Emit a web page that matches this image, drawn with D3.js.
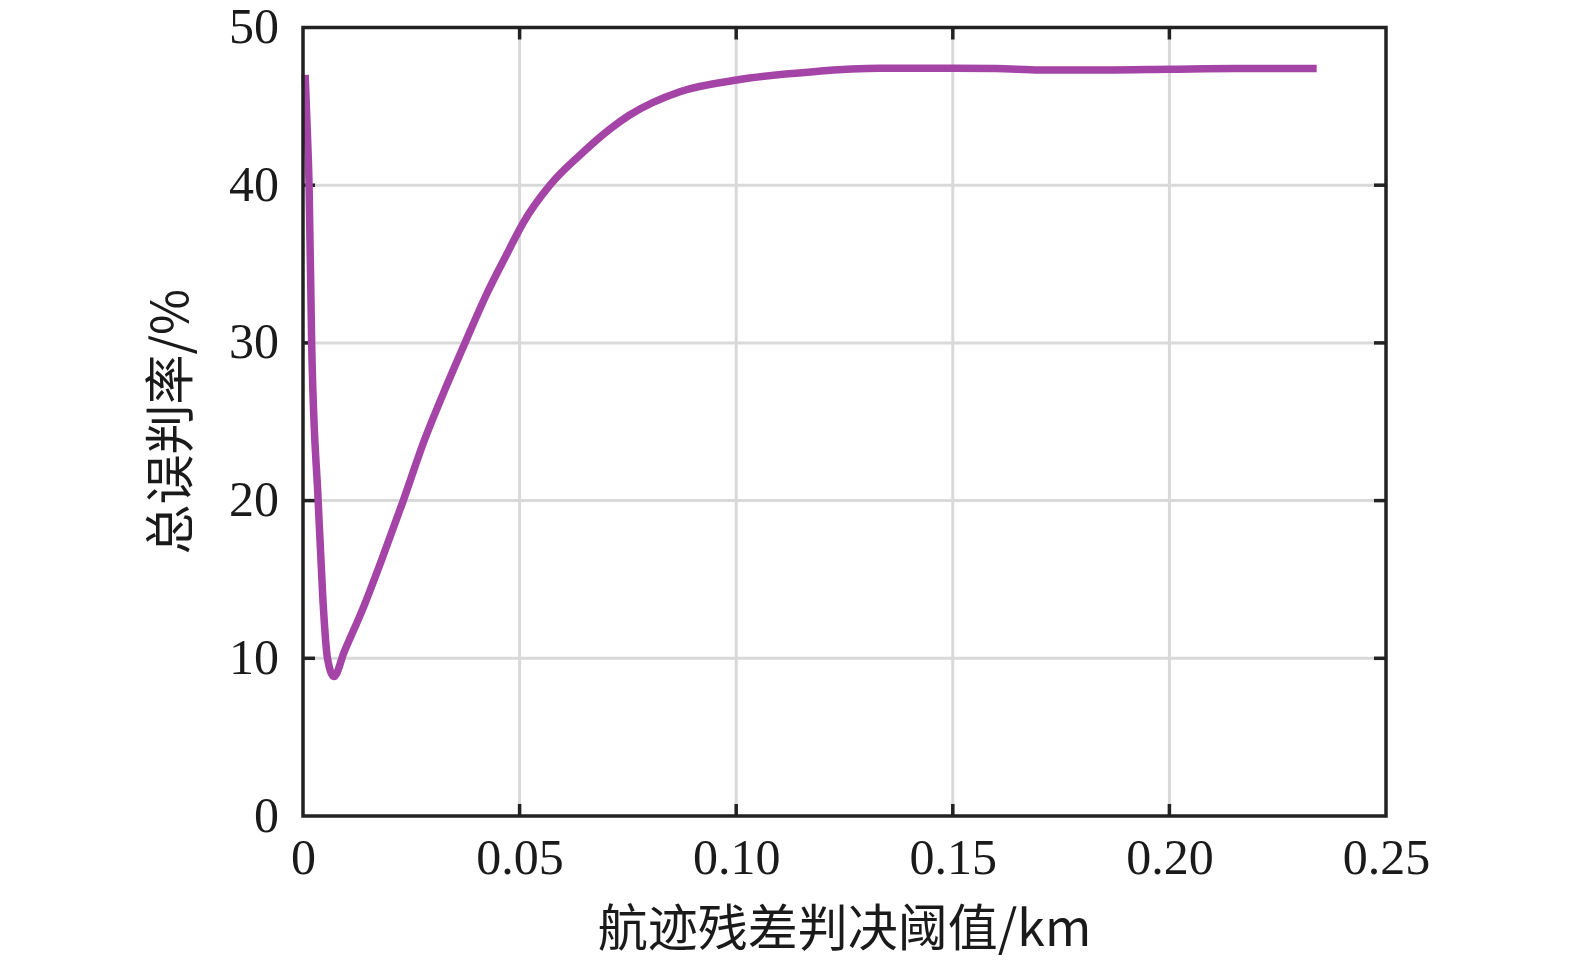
<!DOCTYPE html>
<html><head><meta charset="utf-8">
<script src="https://cdn.jsdelivr.net/npm/d3@7"></script>
<style>body{margin:0;background:#fff}svg{display:block}</style>
</head><body>
<svg id="c" width="1575" height="962"></svg>
<script>
const thresholdKm = [0.0005,0.0009,0.0014,0.0020,0.0035,0.0046,0.00565,0.00715,0.0095,0.0139,0.0185,0.02315,0.0278,0.0324,0.0374,0.0424,0.0470,0.0508,0.0570,0.0639,0.0708,0.0754,0.0870,0.1001,0.1178,0.1331,0.1485,0.1600,0.1700,0.1850,0.2000,0.2150,0.2340];
const errorRate  = [47.0,44.1,40.0,30.0,20.0,13.7,10.0,8.85,10.4,13.2,16.5,20.0,23.67,26.8,30.0,33.1,35.6,37.6,40.0,41.9,43.55,44.45,45.93,46.67,47.2,47.41,47.41,47.4,47.3,47.3,47.35,47.4,47.4];
const xTicks = [0,0.05,0.10,0.15,0.20,0.25];
const xTickLabels = ["0","0.05","0.10","0.15","0.20","0.25"];
const yTicks = [0,10,20,30,40,50];
const xTitle = "航迹残差判决阈值/km";
const yTitle = "总误判率/%";

const svg = d3.select("#c");
const L=303,R=1386,T=27.5,B=816;
const x = d3.scaleLinear().domain([0,0.25]).range([L,R]);
const y = d3.scaleLinear().domain([0,50]).range([B,T]);
const serif = "'Liberation Serif','Times New Roman',serif";
const cjk = "'Noto Sans CJK SC','Liberation Serif',serif";

// grid
const g = svg.append("g");
g.selectAll(".gx").data(xTicks.slice(1,-1)).join("line")
 .attr("x1",d=>x(d)).attr("x2",d=>x(d)).attr("y1",T).attr("y2",B)
 .attr("stroke","#d9d9d9").attr("stroke-width",3);
g.selectAll(".gy").data(yTicks.slice(1,-1)).join("line")
 .attr("y1",d=>y(d)).attr("y2",d=>y(d)).attr("x1",L).attr("x2",R)
 .attr("stroke","#d9d9d9").attr("stroke-width",3);

// axes with inward ticks
const tk=12;
const ax = d3.axisBottom(x).tickValues(xTicks).tickSize(0).tickFormat((d,i)=>xTickLabels[i]);
const gxA = svg.append("g").attr("transform",`translate(0,${B})`).call(ax);
gxA.select(".domain").remove();
gxA.selectAll("text").attr("font-family",serif).attr("font-size",50).attr("fill","#1a1a1a").attr("dy",0).attr("y",58);
const ay = d3.axisLeft(y).tickValues(yTicks).tickSize(0).tickFormat(d3.format("d"));
const gyA = svg.append("g").attr("transform",`translate(${L},0)`).call(ay);
gyA.select(".domain").remove();
gyA.selectAll("text").attr("font-family",serif).attr("font-size",50).attr("fill","#1a1a1a").attr("dy",0).attr("x",-24).attr("y",15);

const tickG = svg.append("g").attr("stroke","#222").attr("stroke-width",3.5);
xTicks.slice(1,-1).forEach(d=>{
  tickG.append("line").attr("x1",x(d)).attr("x2",x(d)).attr("y1",B).attr("y2",B-tk);
  tickG.append("line").attr("x1",x(d)).attr("x2",x(d)).attr("y1",T).attr("y2",T+tk);
});
yTicks.slice(1,-1).forEach(d=>{
  tickG.append("line").attr("y1",y(d)).attr("y2",y(d)).attr("x1",L).attr("x2",L+tk);
  tickG.append("line").attr("y1",y(d)).attr("y2",y(d)).attr("x1",R).attr("x2",R-tk);
});

// line
const line = d3.line().x((d,i)=>x(thresholdKm[i])).y(d=>y(d)).curve(d3.curveMonotoneX);
svg.append("path").datum(errorRate).attr("d",line)
 .attr("fill","none").attr("stroke","#a444a6").attr("stroke-width",7.5).attr("stroke-linejoin","round");

// frame
svg.append("rect").attr("x",L).attr("y",T).attr("width",R-L).attr("height",B-T)
 .attr("fill","none").attr("stroke","#222").attr("stroke-width",3.5);

// titles
svg.append("text").attr("x",(L+R)/2).attr("y",946).attr("text-anchor","middle")
 .attr("font-family",cjk).attr("font-size",50).attr("fill","#1a1a1a").text(xTitle);
svg.append("text").attr("transform",`translate(188,${(T+B)/2}) rotate(-90)`).attr("text-anchor","middle")
 .attr("font-family",cjk).attr("font-size",50).attr("fill","#1a1a1a").text(yTitle);
</script>
</body></html>
